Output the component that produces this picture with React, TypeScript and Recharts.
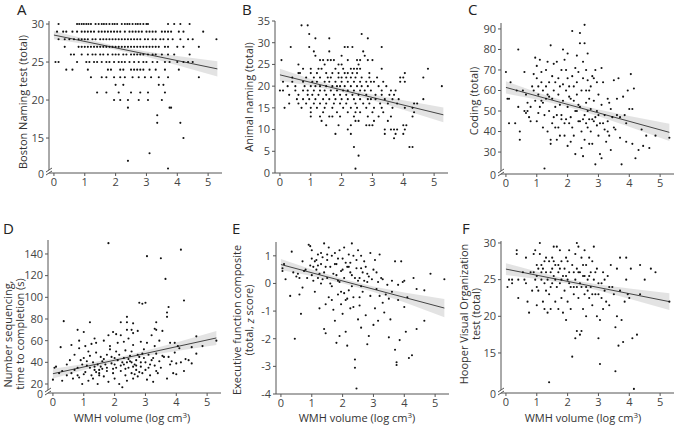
import { ComposedChart, Scatter, Line, Area, XAxis, YAxis } from 'recharts';

type Pt = [number, number];
type Band = [number, number, number]; // x, lower, upper

const xTicks = [0, 1, 2, 3, 4, 5];
const xDomain = [-0.16, 5.45];

// A - Boston Naming test: [score, WMH values at that score]
const bostonRows: [number, number[]][] = [
  [30, [0.15, 0.75, 0.82, 0.9, 0.97, 1.05, 1.12, 1.2, 1.35, 1.45, 1.55, 1.62, 1.7, 1.8, 1.9, 1.97, 2.05, 2.2, 2.3, 2.38, 2.45, 2.55, 2.65, 2.72, 2.8, 2.9, 3.0, 3.05, 3.7, 3.9, 4.1, 4.4]],
  [29, [0.1, 0.3, 0.4, 0.6, 0.75, 0.9, 1.0, 1.1, 1.2, 1.3, 1.45, 1.55, 1.65, 1.75, 1.85, 1.95, 2.05, 2.15, 2.3, 2.45, 2.55, 2.65, 2.75, 2.85, 3.0, 3.1, 3.2, 3.3, 3.5, 3.6, 3.7, 3.8, 4.05, 4.2, 4.84]],
  [28, [0.15, 0.35, 0.5, 0.65, 0.8, 0.9, 1.0, 1.1, 1.25, 1.35, 1.5, 1.6, 1.7, 1.8, 1.9, 2.0, 2.1, 2.2, 2.3, 2.4, 2.5, 2.6, 2.7, 2.8, 2.95, 3.05, 3.2, 3.3, 3.45, 3.55, 3.7, 3.85, 4.1, 4.35, 4.5, 5.27]],
  [27, [0.35, 0.8, 0.9, 1.0, 1.1, 1.2, 1.3, 1.4, 1.5, 1.6, 1.7, 1.8, 1.9, 2.0, 2.1, 2.2, 2.3, 2.4, 2.5, 2.6, 2.7, 2.8, 2.9, 3.0, 3.1, 3.2, 3.3, 3.4, 3.6, 3.7, 4.0, 4.2, 4.7]],
  [26, [0.55, 0.65, 0.9, 1.1, 1.25, 1.35, 1.5, 1.6, 1.75, 1.9, 2.0, 2.1, 2.25, 2.35, 2.5, 2.6, 2.7, 2.8, 2.9, 3.05, 3.2, 3.3, 3.5, 3.7, 3.9, 4.4]],
  [25, [0.05, 0.15, 0.75, 1.05, 1.15, 1.3, 1.4, 1.55, 1.7, 1.8, 1.95, 2.1, 2.2, 2.3, 2.45, 2.6, 2.75, 2.9, 3.0, 3.2, 3.35, 3.6, 3.75, 4.0, 4.2, 4.35, 4.5]],
  [24, [0.4, 0.6, 1.1, 1.75, 1.85, 2.15, 2.25, 2.5, 2.6, 2.7, 2.8, 2.9, 3.1, 3.3, 3.6, 4.05]],
  [23, [1.2, 1.55, 1.7, 1.95, 2.15, 2.3, 2.55, 2.75, 2.95, 3.15, 3.4, 3.7, 4.7]],
  [22, [2.0, 2.25, 3.4, 3.55]],
  [21, [1.4, 1.7, 2.1, 2.5, 2.8, 3.05, 3.6]],
  [20, [1.95, 2.15, 2.4, 2.75, 3.05, 3.5]],
  [19, [2.4, 3.75, 3.8]],
  [18, [3.35]],
  [17, [3.35, 4.1]],
  [15, [4.2]],
  [13, [3.1]],
  [12, [2.4]],
  [11, [3.7]],
];
const bostonFit: Pt[] = [[0, 28.55], [5.3, 24.1]];
const bostonBand: Band[] = [[0, 28.0, 29.1], [1, 27.36, 28.06], [2, 26.62, 27.12], [3, 25.68, 26.38], [4, 24.59, 25.79], [5.3, 23.1, 25.1]];
const bostonTicks = [10.4, 15, 20, 25, 30];

// B - Animal naming
const animalRows: [number, number[]][] = [
  [34, [0.7, 0.9]],
  [32, [0.95, 2.65]],
  [31, [1.15, 1.6, 2.85]],
  [29, [0.35, 0.95, 2.1, 2.2, 2.35, 3.3]],
  [28, [1.1, 1.6, 2.7]],
  [27, [1.15, 2.0, 2.75]],
  [26, [0.05, 1.3, 1.4, 1.55, 1.65, 1.75, 2.2, 2.5, 2.6, 2.85, 3.0]],
  [25, [0.6, 1.45, 1.9, 2.0, 2.55]],
  [24, [0.75, 1.0, 1.25, 1.35, 1.8, 2.05, 2.3, 2.4, 2.5, 2.6, 3.3, 4.8]],
  [23, [0.6, 0.65, 1.0, 1.2, 1.5, 1.7, 1.9, 2.1, 2.2, 2.35, 2.5, 2.9, 4.05]],
  [22, [0.4, 0.85, 1.1, 1.3, 1.55, 1.65, 1.9, 2.0, 2.15, 2.3, 2.45, 2.65, 2.9, 3.15, 3.9, 4.0, 4.65]],
  [21, [0.1, 0.4, 0.75, 1.05, 1.2, 1.45, 1.6, 1.8, 2.0, 2.2, 2.4, 2.6, 2.8, 2.95, 3.05, 3.35, 3.9, 4.05]],
  [20, [0.25, 0.5, 0.8, 1.0, 1.15, 1.3, 1.5, 1.7, 1.85, 1.95, 2.1, 2.3, 2.5, 2.65, 2.85, 3.2, 3.45, 5.25]],
  [19, [0.0, 0.1, 0.5, 0.75, 0.9, 1.1, 1.3, 1.45, 1.65, 1.85, 2.05, 2.2, 2.4, 2.6, 2.75, 2.95, 3.3, 3.6, 3.75]],
  [18, [0.3, 0.6, 0.9, 1.05, 1.25, 1.5, 1.75, 1.95, 2.15, 2.35, 2.55, 2.8, 3.1, 3.3, 3.55, 3.7]],
  [17, [0.55, 0.75, 0.95, 1.15, 1.4, 1.6, 1.8, 2.0, 2.2, 2.4, 2.6, 2.85, 2.95, 3.1, 3.4, 3.65, 3.85, 4.65]],
  [16, [0.3, 0.6, 0.85, 1.1, 1.3, 1.5, 1.75, 1.95, 2.15, 2.45, 2.7, 2.9, 3.25, 3.5, 3.8, 4.35, 4.45]],
  [15, [0.15, 0.7, 1.0, 1.2, 1.45, 1.7, 2.05, 2.3, 2.5, 2.8, 3.05, 3.3, 3.65, 4.05, 4.3]],
  [14, [1.0, 1.4, 1.85, 2.2, 2.45, 2.6, 3.0, 3.35, 4.35]],
  [13, [1.0, 1.3, 1.6, 1.7, 1.95, 2.4, 2.85, 3.2, 3.6, 4.3]],
  [12, [1.35, 2.45, 2.55, 3.05, 3.5]],
  [11, [1.5, 1.9, 2.3, 2.8, 2.9, 3.0, 4.0, 4.1]],
  [10, [2.2, 3.4, 3.6, 3.7, 3.8, 4.05]],
  [9, [1.8, 2.3, 3.4, 3.75, 4.0]],
  [8, [3.7]],
  [6, [2.4, 4.2, 4.3]],
  [4, [2.55]],
  [1, [2.45]],
];
const animalFit: Pt[] = [[0, 22.6], [5.3, 13.4]];
const animalBand: Band[] = [[0, 21.2, 24.0], [1, 20.07, 21.67], [2, 18.63, 19.63], [3, 16.75, 18.05], [4, 14.57, 16.77], [5.3, 11.7, 15.1]];
const animalTicks = [0, 5, 10, 15, 20, 25, 30, 35];

// C - Coding
const codingPts: Pt[] = [
  [0.0, 69], [0.05, 56], [0.1, 56], [0.15, 64], [0.1, 44], [0.3, 44], [0.35, 60], [0.4, 80], [0.4, 52], [0.45, 40],
  [0.45, 36], [0.55, 60], [0.6, 69], [0.65, 58], [0.7, 54], [0.7, 50], [0.75, 47], [0.8, 45], [0.8, 52], [0.85, 62],
  [0.9, 60], [0.9, 68], [0.95, 76], [1.0, 72], [1.0, 66], [1.05, 62], [1.05, 58], [1.1, 75], [1.1, 52], [1.15, 64],
  [1.15, 55], [1.2, 60], [1.2, 42], [1.25, 22], [1.25, 48], [1.3, 70], [1.3, 62], [1.35, 74], [1.35, 58], [1.35, 40],
  [1.4, 64], [1.4, 50], [1.45, 82], [1.45, 36], [1.45, 34], [1.5, 67], [1.5, 56], [1.5, 44], [1.55, 60], [1.55, 73],
  [1.6, 52], [1.6, 64], [1.65, 48], [1.65, 74], [1.7, 58], [1.7, 42], [1.7, 66], [1.75, 38], [1.75, 62], [1.8, 48],
  [1.8, 70], [1.85, 80], [1.85, 55], [1.9, 75], [1.9, 44], [1.9, 38], [1.95, 60], [1.95, 46], [2.0, 78], [2.0, 52],
  [2.0, 33], [2.05, 62], [2.05, 44], [2.1, 56], [2.1, 47], [2.15, 89], [2.15, 67], [2.15, 42], [2.2, 55], [2.2, 38],
  [2.25, 50], [2.25, 29], [2.3, 77], [2.3, 64], [2.3, 58], [2.35, 69], [2.35, 45], [2.4, 88], [2.4, 83], [2.4, 52],
  [2.45, 60], [2.45, 40], [2.45, 32], [2.5, 74], [2.5, 66], [2.5, 28], [2.55, 92], [2.55, 83], [2.55, 48], [2.55, 36],
  [2.6, 70], [2.6, 60], [2.6, 44], [2.65, 78], [2.65, 65], [2.65, 50], [2.7, 56], [2.7, 46], [2.75, 62], [2.75, 40],
  [2.8, 67], [2.8, 46], [2.8, 34], [2.85, 55], [2.85, 45], [2.9, 70], [2.9, 24], [2.95, 64], [2.95, 50], [2.95, 43],
  [3.0, 58], [3.0, 38], [3.05, 29], [3.1, 71], [3.1, 53], [3.1, 27], [3.15, 64], [3.15, 44], [3.2, 48], [3.25, 35],
  [3.3, 56], [3.3, 40], [3.35, 38], [3.4, 51], [3.45, 47], [3.5, 65], [3.5, 42], [3.6, 56], [3.65, 66], [3.7, 47],
  [3.7, 37], [3.75, 24], [3.8, 57], [3.85, 48], [3.9, 44], [3.95, 60], [4.05, 68], [4.1, 51], [4.1, 34], [4.15, 61],
  [4.2, 27], [4.3, 31], [4.4, 41], [4.45, 33], [4.55, 38], [4.65, 32], [4.85, 38], [5.3, 37], [0.6, 50], [0.65, 49],
  [1.0, 45], [1.05, 49], [1.2, 54], [1.6, 42], [1.8, 46], [2.0, 66], [2.3, 50], [2.7, 34], [3.0, 48], [3.2, 41],
  [3.4, 31], [3.55, 41], [2.6, 54], [2.2, 62], [1.95, 70], [1.3, 56], [2.85, 66], [3.3, 45], [3.9, 35], [4.0, 51],
  [1.4, 57], [1.55, 47], [1.75, 53], [2.05, 57], [2.35, 53], [2.5, 46], [2.75, 51], [2.9, 47], [3.05, 44], [1.15, 69],
  [0.95, 55], [1.85, 63], [2.25, 71], [2.7, 60], [3.35, 54], [3.6, 48], [1.65, 36], [2.1, 35], [2.4, 45], [2.65, 42],
];
const codingFit: Pt[] = [[0, 61.5], [5.3, 39.6]];
const codingBand: Band[] = [[0, 58.5, 64.5], [1, 55.57, 59.17], [2, 52.04, 54.44], [3, 47.5, 50.7], [4, 42.37, 47.57], [5.3, 35.4, 43.8]];
const codingTicks = [19.3, 30, 40, 50, 60, 70, 80, 90];

// D - Number sequencing, time to completion (s)
const seqPts: Pt[] = [
  [1.8, 150], [3.05, 138], [3.5, 136], [4.15, 144], [3.65, 117], [4.25, 97], [2.8, 95], [2.9, 94], [3.0, 95], [3.75, 91],
  [3.7, 86], [3.7, 82], [2.4, 82], [2.4, 77], [2.6, 76], [2.2, 77], [1.2, 77], [0.35, 78], [0.8, 70], [3.35, 77],
  [3.3, 71], [3.35, 70], [3.55, 69], [2.4, 70], [2.55, 70], [2.75, 69], [2.6, 67], [2.05, 66], [2.2, 65], [1.8, 65],
  [1.95, 68], [0.85, 60], [1.0, 68], [1.35, 62], [1.65, 60], [1.25, 57], [1.4, 58], [1.05, 55], [0.6, 56], [0.25, 54],
  [0.85, 53], [1.15, 50], [1.85, 55], [2.1, 58], [2.3, 59], [2.45, 62], [2.6, 56], [2.85, 59], [3.05, 58], [3.3, 55],
  [3.45, 60], [3.2, 65], [3.8, 58], [3.95, 58], [4.05, 55], [4.1, 53], [3.95, 49], [4.5, 54], [4.65, 64], [4.85, 55],
  [4.65, 48], [4.4, 42], [4.5, 39], [5.3, 60], [4.0, 39], [4.15, 40], [3.85, 41], [3.75, 45], [3.55, 46], [3.35, 48],
  [3.1, 47], [2.95, 44], [2.75, 47], [2.55, 50], [2.35, 51], [2.15, 47], [2.0, 44], [1.75, 47], [1.55, 45], [1.4, 49],
  [1.2, 46], [1.0, 44], [0.7, 47], [0.55, 42], [0.45, 38], [0.3, 32], [0.05, 35], [0.1, 36], [0.0, 24], [0.3, 23],
  [0.6, 30], [0.8, 35], [0.85, 26], [0.95, 20], [1.05, 31], [1.15, 23], [1.25, 28], [1.35, 33], [1.45, 20], [1.5, 30],
  [1.55, 36], [1.65, 27], [1.75, 32], [1.8, 22], [1.9, 39], [1.95, 30], [2.0, 25], [2.05, 35], [2.15, 20], [2.2, 32],
  [2.25, 17], [2.3, 38], [2.35, 28], [2.4, 23], [2.45, 35], [2.5, 41], [2.55, 30], [2.6, 25], [2.65, 38], [2.7, 33],
  [2.75, 27], [2.8, 45], [2.85, 36], [2.9, 30], [2.95, 52], [3.0, 40], [3.05, 24], [3.1, 35], [3.15, 28], [3.2, 42],
  [3.25, 22], [3.3, 37], [3.4, 30], [3.5, 35], [3.6, 45], [3.7, 25], [3.8, 38], [3.9, 30], [4.0, 29], [1.3, 40],
  [1.1, 37], [0.9, 42], [0.7, 33], [1.6, 41], [1.9, 45], [2.1, 42], [2.3, 44], [2.5, 46], [2.7, 42], [2.9, 48],
  [1.2, 35], [1.4, 31], [1.6, 34], [1.0, 29], [0.8, 28], [2.2, 37], [2.4, 40], [2.6, 36], [2.8, 31], [3.0, 33],
  [1.7, 38], [1.5, 28], [1.3, 25], [2.05, 50], [1.85, 52], [0.65, 25], [0.2, 30], [0.45, 28], [2.65, 29], [3.35, 32],
  [4.25, 32], [4.3, 43], [1.45, 38], [1.65, 43], [2.25, 40], [2.45, 43], [1.1, 41], [0.95, 38], [2.85, 40], [3.15, 38],
  [1.35, 36], [1.75, 35], [2.0, 38], [2.35, 34], [2.7, 37], [3.45, 41], [1.5, 33], [1.95, 34], [2.55, 40], [3.25, 44],
];
const seqFit: Pt[] = [[0, 29.5], [5.3, 62.5]];
const seqBand: Band[] = [[0, 25, 34], [1, 33, 38.4], [2, 40.16, 43.76], [3, 45.8, 50.6], [4, 50.4, 58.4], [5.3, 56, 69]];
const seqTicks = [11.7, 20, 40, 60, 80, 100, 120, 140];

// E - Executive function composite (z score)
const execPts: Pt[] = [
  [0.05, 0.55], [0.05, 0.45], [0.1, 0.7], [0.15, 0.15], [0.3, -0.45], [0.35, 1.15], [0.4, 0.4], [0.45, -2.0], [0.55, 0.35], [0.6, 0.2],
  [0.6, -0.4], [0.65, -1.1], [0.7, 0.8], [0.7, -0.15], [0.8, 0.5], [0.85, 0.2], [0.9, 1.4], [0.95, 1.35], [0.95, 0.65], [1.0, 1.2],
  [1.0, 0.3], [1.05, 0.1], [1.1, 0.8], [1.1, -0.3], [1.15, 0.5], [1.2, 1.05], [1.2, 0.2], [1.25, -0.9], [1.3, 0.7], [1.3, 0.0],
  [1.35, 0.95], [1.4, 1.45], [1.4, 0.4], [1.4, -1.65], [1.45, -1.8], [1.45, -0.75], [1.5, 0.85], [1.5, 0.2], [1.55, 1.3], [1.55, -0.5],
  [1.6, 0.6], [1.65, 1.0], [1.65, -0.1], [1.7, 0.35], [1.7, -0.95], [1.75, 1.1], [1.75, -1.35], [1.8, 0.7], [1.8, -2.15], [1.85, 0.1],
  [1.85, -0.4], [1.9, 1.2], [1.9, -1.9], [1.95, 0.45], [1.95, -0.75], [2.0, 0.9], [2.0, -1.1], [2.05, 1.3], [2.05, 0.2], [2.1, -0.6],
  [2.1, -1.75], [2.15, 0.6], [2.15, -2.25], [2.2, 1.05], [2.2, -0.25], [2.25, 0.75], [2.25, -0.9], [2.3, 1.45], [2.3, 0.3], [2.35, -0.5],
  [2.35, 1.0], [2.4, -2.75], [2.4, -3.05], [2.45, -3.8], [2.45, 0.55], [2.5, 1.2], [2.5, -1.3], [2.55, 0.2], [2.55, -0.8], [2.6, 1.0],
  [2.6, -1.6], [2.65, 0.4], [2.65, -0.3], [2.7, 0.8], [2.75, -1.15], [2.8, 0.05], [2.8, -2.2], [2.85, -1.9], [2.9, 1.1], [2.9, -0.45],
  [2.95, 0.15], [3.0, -1.5], [3.05, 0.85], [3.05, -0.9], [3.1, -0.2], [3.15, -1.35], [3.2, 1.05], [3.25, 0.2], [3.3, -0.7], [3.35, -1.05],
  [3.4, -0.4], [3.5, -1.95], [3.55, -1.3], [3.6, -0.3], [3.7, 0.8], [3.7, -2.4], [3.75, -2.85], [3.75, -2.95], [3.8, -0.6], [3.85, -2.05],
  [3.9, 0.8], [3.95, 0.05], [4.0, -0.85], [4.05, -1.75], [4.1, -0.5], [4.15, -2.7], [4.25, -2.6], [4.4, -1.65], [4.4, -0.2], [4.65, -1.35],
  [4.65, -0.25], [4.85, 0.35], [5.3, 0.15], [0.5, 0.25], [0.75, 0.45], [1.05, 0.6], [1.25, 0.35], [1.6, 0.0], [1.35, 0.15], [1.9, 0.05],
  [2.2, 0.6], [2.7, 0.1], [2.4, 0.2], [2.0, 0.5], [1.75, 0.7], [2.5, 0.1], [2.6, -0.1], [2.8, 0.35], [3.0, 0.5], [3.3, 0.15],
  [3.45, -0.05], [3.6, 0.1], [3.8, -0.05], [4.0, 0.1], [4.3, 0.2], [1.0, 0.9], [1.2, 0.65], [1.5, 1.05], [2.25, 0.4], [2.75, 0.6],
  [3.1, 0.4], [1.95, -0.3], [2.35, -0.85], [2.55, -0.5], [2.15, -0.55], [1.65, -0.6], [3.2, -0.45], [3.5, -0.55], [1.15, 0.85], [1.45, 0.6],
  [1.85, 0.9], [2.1, 0.75], [2.45, 0.85], [2.6, 0.55], [2.85, 0.25], [3.15, 0.05], [1.3, 1.1], [2.3, -0.1], [1.8, 0.3], [2.05, -0.35],
];
const execFit: Pt[] = [[0, 0.685], [5.3, -0.89]];
const execBand: Band[] = [[0, 0.485, 0.885], [1, 0.268, 0.508], [2, 0.011, 0.171], [3, -0.306, -0.106], [4, -0.683, -0.323], [5.3, -1.22, -0.56]];
const execTicks = [-4, -3, -2, -1, 0, 1];

// F - Hooper Visual Organization test
const hooperPts: Pt[] = [
  [0.05, 24], [0.1, 25], [0.2, 25], [0.2, 24.5], [0.35, 29], [0.35, 28.5], [0.4, 22.5], [0.4, 25], [0.55, 26], [0.6, 25],
  [0.65, 24.5], [0.65, 28], [0.7, 22], [0.75, 20.5], [0.8, 26], [0.85, 23.5], [0.9, 28.5], [0.9, 26], [0.95, 29], [0.95, 25],
  [1.0, 27], [1.0, 24], [1.0, 21.5], [1.05, 26.5], [1.05, 23.5], [1.1, 30], [1.1, 28.5], [1.15, 27], [1.15, 25], [1.2, 26.5],
  [1.2, 22], [1.25, 27.5], [1.25, 24.5], [1.25, 21], [1.3, 28], [1.3, 26], [1.35, 25], [1.35, 20.5], [1.4, 27.5], [1.4, 23],
  [1.4, 11], [1.45, 26], [1.45, 21], [1.5, 28], [1.5, 24.5], [1.55, 29.5], [1.55, 25.5], [1.6, 27], [1.6, 22], [1.65, 29.5],
  [1.65, 24], [1.7, 26], [1.7, 21], [1.75, 29], [1.75, 24.5], [1.8, 27.5], [1.8, 22.5], [1.85, 25.5], [1.85, 20.5], [1.9, 26.5],
  [1.9, 23.5], [1.95, 28], [1.95, 19.5], [2.0, 25], [2.0, 22], [2.05, 29], [2.05, 26], [2.1, 24], [2.1, 21], [2.15, 27],
  [2.15, 14.5], [2.2, 26], [2.2, 23], [2.25, 28.5], [2.25, 25], [2.25, 17], [2.3, 30], [2.3, 26.5], [2.3, 18], [2.35, 29.5],
  [2.35, 22.5], [2.4, 26], [2.4, 17.5], [2.45, 28], [2.45, 24], [2.45, 18], [2.5, 25.5], [2.5, 21], [2.55, 29], [2.55, 23],
  [2.6, 27], [2.6, 20], [2.65, 25], [2.7, 28], [2.7, 22.5], [2.75, 26], [2.75, 24], [2.8, 27.5], [2.8, 21.5], [2.85, 29.5],
  [2.85, 25], [2.9, 23], [2.95, 26.5], [2.95, 20], [3.0, 24.5], [3.0, 17], [3.05, 13.5], [3.05, 19.5], [3.1, 22.5], [3.15, 26],
  [3.15, 21], [3.2, 23.5], [3.25, 22], [3.3, 25.5], [3.35, 21.5], [3.4, 27], [3.45, 24], [3.5, 23], [3.55, 18.5], [3.55, 12.5],
  [3.6, 26.5], [3.6, 20], [3.65, 16], [3.7, 28], [3.7, 23.5], [3.75, 19.5], [3.8, 16.5], [3.85, 22], [3.9, 28], [3.9, 25],
  [3.95, 23], [4.05, 26.5], [4.1, 17], [4.15, 10.1], [4.25, 17.5], [4.35, 27], [4.35, 23], [4.5, 25], [4.7, 26.5], [4.85, 26],
  [5.3, 22], [4.0, 22.5], [1.6, 25], [2.0, 27.5], [2.4, 24.5], [2.6, 24], [1.8, 25], [2.2, 24], [2.8, 23], [3.0, 23],
  [1.0, 25.5], [1.3, 23.5], [1.5, 26.5], [2.5, 27], [2.7, 25.5], [1.7, 27], [2.3, 24], [3.1, 24.5], [1.15, 26], [1.45, 24],
  [1.75, 26.5], [2.05, 24.5], [2.35, 26], [2.65, 23.5], [2.9, 26], [3.2, 25], [1.55, 27.5], [1.95, 25.5], [2.55, 25.5], [3.35, 24],
];
const hooperFit: Pt[] = [[0, 26.44], [5.3, 22.0]];
const hooperBand: Band[] = [[0, 25.64, 27.24], [1, 25.1, 26.1], [2, 24.46, 25.06], [3, 23.53, 24.33], [4, 22.39, 23.79], [5.3, 20.85, 23.15]];
const hooperTicks = [9.54, 15, 20, 25, 30];

const FONT = '"Open Sans", "DejaVu Sans", sans-serif';
const YW = 40;
const PLOT_W = 173;
const TOP = 10;

const rowsToPts = (rows: [number, number[]][]): Pt[] => rows.flatMap(([y, xs]) => xs.map((x) => [x, y] as Pt));

function makeYTick(broken: boolean) {
  return (props: any) => {
    const { x, y, payload, index } = props;
    const isBreak = broken && index === 0;
    const label = isBreak ? '0' : String(payload.value);
    const ax = x + 5;
    return (
      <g>
        {isBreak && (
          <g>
            <polygon points={`${ax - 3},${y - 1} ${ax + 3},${y - 5} ${ax + 3},${y - 2} ${ax - 3},${y + 2}`} fill="#fff" />
            <line x1={ax - 3} y1={y - 1} x2={ax + 3} y2={y - 5} stroke="#555" strokeWidth={1} />
            <line x1={ax - 3} y1={y + 2} x2={ax + 3} y2={y - 2} stroke="#555" strokeWidth={1} />
          </g>
        )}
        <text x={x} y={isBreak ? y + 1 : y} dy="0.35em" textAnchor="end" fontSize={isBreak ? 10.5 : 11} fill="#444" fontFamily={FONT}>
          {label}
        </text>
      </g>
    );
  };
}

const dot = (p: any) => <circle cx={p.cx} cy={p.cy} r={1.05} fill="#111" />;

interface PanelProps {
  pts: Pt[];
  fit: Pt[];
  band: Band[];
  yDomain: number[];
  yTicks: number[];
  broken: boolean;
  left: number;
  top: number;
  h: number;
}

function Panel({ pts, fit, band, yDomain, yTicks, broken, left, top, h }: PanelProps) {
  const scatterData = pts.map(([x, y]) => ({ x, y }));
  const fitData = fit.map(([x, y]) => ({ x, y }));
  const bandData = band.map(([x, lo, hi]) => ({ x, range: [lo, hi] }));
  return (
    <div style={{ position: 'absolute', left: left - YW, top: top - TOP }}>
      <ComposedChart width={YW + PLOT_W + 4} height={h + TOP + 22} margin={{ top: TOP, right: 4, bottom: 0, left: 0 }}>
        <XAxis
          type="number"
          dataKey="x"
          domain={xDomain}
          ticks={xTicks}
          interval={0}
          allowDataOverflow
          height={22}
          stroke="#555"
          tickSize={3}
          tickMargin={2}
          tick={{ fontSize: 11, fill: '#444', fontFamily: FONT }}
        />
        <YAxis
          type="number"
          domain={yDomain}
          ticks={yTicks}
          interval={0}
          allowDataOverflow
          width={YW}
          stroke="#555"
          tickSize={3}
          tickMargin={2}
          tick={makeYTick(broken)}
        />
        <Area data={bandData} dataKey="range" type="linear" stroke="none" fill="#d9d9d9" fillOpacity={0.75} isAnimationActive={false} />
        <Scatter data={scatterData} dataKey="y" shape={dot} isAnimationActive={false} />
        <Line data={fitData} dataKey="y" type="linear" stroke="#444" strokeWidth={1} dot={false} isAnimationActive={false} />
      </ComposedChart>
    </div>
  );
}

const letterStyle = { fontSize: 15, fill: '#222', fontFamily: FONT };
const labelStyle = { fontSize: 11, fill: '#333', fontFamily: FONT };

function YLabel({ x, y, lines }: { x: number; y: number; lines: React.ReactNode[] }) {
  return (
    <g transform={`translate(${x},${y}) rotate(-90)`}>
      {lines.map((ln, i) => (
        <text key={i} x={0} y={i * 12.5} textAnchor="middle" dominantBaseline="central" style={labelStyle}>
          {ln}
        </text>
      ))}
    </g>
  );
}

function XLabel({ cx }: { cx: number }) {
  return (
    <text x={cx} y={422} textAnchor="middle" style={labelStyle}>
      WMH volume (log cm<tspan dy={-4} fontSize={8}>3</tspan><tspan dy={4}>)</tspan>
    </text>
  );
}

export default function App() {
  return (
    <div style={{ position: 'absolute', left: 0, top: 0, width: 677, height: 428, background: '#fff' }}>
      <Panel pts={rowsToPts(bostonRows)} fit={bostonFit} band={bostonBand} yDomain={[10.4, 30.4]} yTicks={bostonTicks} broken left={49} top={21} h={152} />
      <Panel pts={rowsToPts(animalRows)} fit={animalFit} band={animalBand} yDomain={[0, 35]} yTicks={animalTicks} broken={false} left={275} top={21} h={152} />
      <Panel pts={codingPts} fit={codingFit} band={codingBand} yDomain={[19.3, 92.9]} yTicks={codingTicks} broken left={501} top={23} h={151} />
      <Panel pts={seqPts} fit={seqFit} band={seqBand} yDomain={[11.7, 152.9]} yTicks={seqTicks} broken left={48} top={240} h={153} />
      <Panel pts={execPts} fit={execFit} band={execBand} yDomain={[-4, 1.5]} yTicks={execTicks} broken={false} left={276} top={242} h={152} />
      <Panel pts={hooperPts} fit={hooperFit} band={hooperBand} yDomain={[9.54, 30.27]} yTicks={hooperTicks} broken left={501} top={241} h={152} />
      <svg width={677} height={428} style={{ position: 'absolute', left: 0, top: 0, pointerEvents: 'none' }}>
        <text x={17} y={15} style={letterStyle}>A</text>
        <text x={242} y={15} style={letterStyle}>B</text>
        <text x={468} y={15} style={letterStyle}>C</text>
        <text x={3} y={234} style={letterStyle}>D</text>
        <text x={232} y={234} style={letterStyle}>E</text>
        <text x={462} y={234} style={letterStyle}>F</text>
        <YLabel x={22} y={102} lines={['Boston Naming test (total)']} />
        <YLabel x={248} y={97} lines={['Animal naming (total)']} />
        <YLabel x={473} y={101} lines={['Coding (total)']} />
        <YLabel x={7} y={334} lines={['Number sequencing,', 'time to completion (s)']} />
        <YLabel x={236} y={320} lines={['Executive function composite', <>(total, <tspan fontStyle="italic">z</tspan> score)</>]} />
        <YLabel x={463} y={314} lines={['Hooper Visual Organization', 'test (total)']} />
        <XLabel cx={132} />
        <XLabel cx={357} />
        <XLabel cx={583} />
      </svg>
    </div>
  );
}
